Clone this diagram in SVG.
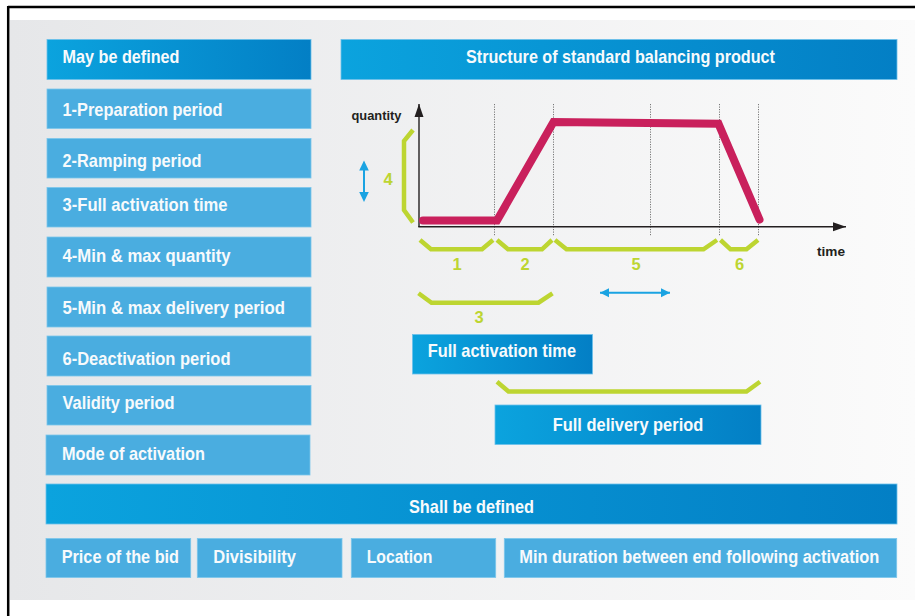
<svg xmlns="http://www.w3.org/2000/svg" width="915" height="616" viewBox="0 0 915 616">
  <defs>
    <linearGradient id="panelFill" x1="0" y1="0" x2="1" y2="0">
      <stop offset="0" stop-color="#e6e7e9"/>
      <stop offset="1" stop-color="#fbfbfb"/>
    </linearGradient>
    <linearGradient id="headFill" x1="0" y1="0" x2="1" y2="0">
      <stop offset="0" stop-color="#0ba3de"/>
      <stop offset="1" stop-color="#037fc5"/>
    </linearGradient>
    <marker id="axisHead" markerUnits="userSpaceOnUse" markerWidth="14" markerHeight="12" viewBox="0 0 14 12" refX="13" refY="6" orient="auto">
      <path d="M0,1.5 L13,6 L0,10.5 Z" fill="#231f20"/>
    </marker>
    <marker id="blueHead" markerUnits="userSpaceOnUse" markerWidth="10" markerHeight="10" viewBox="0 0 10 10" refX="9" refY="5" orient="auto-start-reverse">
      <path d="M0,0.5 L9,5 L0,9.5 Z" fill="#1aa3e2"/>
    </marker>
    <style>
      .box { fill: #4aade0; stroke: #7cc6ec; stroke-width: 0.8; }
      .head { fill: url(#headFill); stroke: #6cc0ea; stroke-width: 0.8; }
      .lbl { font-family: "Liberation Sans", Arial, sans-serif; font-weight: bold; font-size: 18.5px; fill: #f7fafc; }
      .lbl-long { font-size: 17.5px; }
      .axis-lbl { font-family: "Liberation Sans", Arial, sans-serif; font-weight: bold; font-size: 13.5px; fill: #231f20; }
      .num { font-family: "Liberation Sans", Arial, sans-serif; font-weight: bold; font-size: 16.5px; fill: #bdd531; text-anchor: middle; }
      .brace { fill: none; stroke: #bdd531; stroke-width: 4.5; stroke-linejoin: miter; stroke-linecap: butt; }
      .grid { stroke: #777777; stroke-width: 1; stroke-dasharray: 1.2 1.3; }
      .axis { stroke: #231f20; stroke-width: 1.4; fill: none; }
      .span { stroke: #1aa3e2; stroke-width: 2; fill: none; }
    </style>
  </defs>

  <!-- frame and panel -->
  <rect x="0" y="0" width="915" height="616" fill="#ffffff"/>
  <rect x="10" y="20" width="905" height="580" fill="url(#panelFill)"/>
  <line x1="8" y1="7" x2="915" y2="7" stroke="#000" stroke-width="2.5"/>
  <line x1="8.2" y1="6" x2="8.2" y2="616" stroke="#000" stroke-width="2.5"/>

  <!-- optional attributes column -->
  <g id="may-be-defined">
    <rect class="head" x="47" y="39.5" width="264" height="40"/>
    <text class="lbl" x="62.5" y="63.3" textLength="117" lengthAdjust="spacingAndGlyphs">May be defined</text>
  </g>
  <g id="preparation-period">
    <rect class="box" x="47" y="89" width="264" height="39.5"/>
    <text class="lbl" x="62.5" y="116" textLength="160" lengthAdjust="spacingAndGlyphs">1-Preparation period</text>
  </g>
  <g id="ramping-period">
    <rect class="box" x="47" y="138.5" width="264" height="39.5"/>
    <text class="lbl" x="62.5" y="167.3" textLength="139" lengthAdjust="spacingAndGlyphs">2-Ramping period</text>
  </g>
  <g id="full-activation-time-item">
    <rect class="box" x="47" y="187.5" width="264" height="39.5"/>
    <text class="lbl" x="62.5" y="211" textLength="165" lengthAdjust="spacingAndGlyphs">3-Full activation time</text>
  </g>
  <g id="min-max-quantity">
    <rect class="box" x="47" y="237" width="264" height="40"/>
    <text class="lbl" x="62.5" y="262" textLength="168" lengthAdjust="spacingAndGlyphs">4-Min &amp; max quantity</text>
  </g>
  <g id="min-max-delivery-period">
    <rect class="box" x="47" y="287" width="264" height="40"/>
    <text class="lbl" x="62.5" y="314.3" textLength="222.5" lengthAdjust="spacingAndGlyphs">5-Min &amp; max delivery period</text>
  </g>
  <g id="deactivation-period">
    <rect class="box" x="47" y="336" width="264" height="40"/>
    <text class="lbl" x="62.5" y="365" textLength="168" lengthAdjust="spacingAndGlyphs">6-Deactivation period</text>
  </g>
  <g id="validity-period">
    <rect class="box" x="47" y="385.5" width="264" height="39.5"/>
    <text class="lbl" x="62.5" y="409" textLength="112" lengthAdjust="spacingAndGlyphs">Validity period</text>
  </g>
  <g id="mode-of-activation">
    <rect class="box" x="46" y="435" width="264" height="40"/>
    <text class="lbl" x="62" y="460" textLength="143" lengthAdjust="spacingAndGlyphs">Mode of activation</text>
  </g>

  <!-- product structure chart -->
  <g id="structure-header">
    <rect class="head" x="341" y="39.5" width="556" height="40"/>
    <text class="lbl" x="620.5" y="63.3" text-anchor="middle" textLength="309" lengthAdjust="spacingAndGlyphs">Structure of standard balancing product</text>
  </g>

  <g id="chart">
    <!-- time markers -->
    <g id="time-markers">
      <line class="grid" x1="494.5" y1="104" x2="494.5" y2="236"/>
      <line class="grid" x1="553.5" y1="104" x2="553.5" y2="236"/>
      <line class="grid" x1="650.5" y1="104" x2="650.5" y2="236"/>
      <line class="grid" x1="719.5" y1="104" x2="719.5" y2="236"/>
      <line class="grid" x1="758.5" y1="104" x2="758.5" y2="236"/>
    </g>
    <!-- axes -->
    <g id="axes">
      <line class="axis" x1="419" y1="227" x2="419" y2="104" marker-end="url(#axisHead)"/>
      <line class="axis" x1="418.3" y1="226.8" x2="846" y2="226.8" marker-end="url(#axisHead)"/>
      <text class="axis-lbl" x="351.5" y="119.5" textLength="50" lengthAdjust="spacingAndGlyphs">quantity</text>
      <text class="axis-lbl" x="817" y="255.5" textLength="28" lengthAdjust="spacingAndGlyphs">time</text>
    </g>
    <!-- activation profile -->
    <polyline id="profile" points="423,220.5 497,220.5 553.5,122 718.5,123.8 759.5,219.5" fill="none" stroke="#c9205c" stroke-width="8" stroke-linejoin="miter" stroke-linecap="round"/>

    <!-- quantity range -->
    <g id="quantity-range">
      <polyline class="brace" points="413,130 404,141 404,210 413,222.5"/>
      <line class="span" x1="364" y1="170" x2="364" y2="192" stroke-width="2"/>
      <path d="M364,160.5 L368.8,170.5 L359.2,170.5 Z" fill="#1aa3e2"/>
      <path d="M364,202 L368.8,192 L359.2,192 Z" fill="#1aa3e2"/>
      <text class="num" x="388" y="185">4</text>
    </g>

    <!-- period braces -->
    <g id="period-1">
      <polyline class="brace" points="420,240 431,249.3 482,249.3 493,240"/>
      <text class="num" x="457" y="270">1</text>
    </g>
    <g id="period-2">
      <polyline class="brace" points="497,240 508,249.3 542,249.3 552,240"/>
      <text class="num" x="525" y="270">2</text>
    </g>
    <g id="period-5">
      <polyline class="brace" points="555,240 566.5,249.3 703.5,249.3 717,240"/>
      <text class="num" x="636" y="270">5</text>
    </g>
    <g id="period-6">
      <polyline class="brace" points="720.5,240 730.5,249.3 746.5,249.3 758,240"/>
      <text class="num" x="739.5" y="270">6</text>
    </g>
    <g id="period-3">
      <polyline class="brace" points="418.5,293.3 431.5,302.7 538.5,302.7 552.5,293.3"/>
      <text class="num" x="479" y="322.7">3</text>
    </g>

    <!-- delivery period range -->
    <g id="delivery-range">
      <line class="span" x1="600" y1="292.7" x2="670" y2="292.7" marker-start="url(#blueHead)" marker-end="url(#blueHead)"/>
    </g>
  </g>

  <g id="full-activation-time">
    <rect class="head" x="412.5" y="334.5" width="180" height="39.5"/>
    <text class="lbl" x="427.7" y="357.3" textLength="148.3" lengthAdjust="spacingAndGlyphs">Full activation time</text>
  </g>

  <g id="full-delivery-brace">
    <polyline class="brace" points="497,381.7 508.5,391.5 746.5,391.5 760,381.7"/>
  </g>

  <g id="full-delivery-period">
    <rect class="head" x="495" y="405" width="266" height="39.5"/>
    <text class="lbl" x="628" y="430.7" text-anchor="middle" textLength="150.5" lengthAdjust="spacingAndGlyphs">Full delivery period</text>
  </g>

  <!-- mandatory attributes -->
  <g id="shall-be-defined">
    <rect class="head" x="46" y="484" width="851" height="40"/>
    <text class="lbl" x="471.5" y="512.7" text-anchor="middle" textLength="125" lengthAdjust="spacingAndGlyphs">Shall be defined</text>
  </g>
  <g id="price-of-the-bid">
    <rect class="box" x="46" y="538.5" width="144.7" height="39"/>
    <text class="lbl" x="61.7" y="562.7" textLength="117.3" lengthAdjust="spacingAndGlyphs">Price of the bid</text>
  </g>
  <g id="divisibility">
    <rect class="box" x="197.3" y="538.5" width="144.7" height="39"/>
    <text class="lbl" x="213.3" y="562.7" textLength="82.7" lengthAdjust="spacingAndGlyphs">Divisibility</text>
  </g>
  <g id="location">
    <rect class="box" x="351.3" y="538.5" width="144.4" height="39"/>
    <text class="lbl" x="366.7" y="562.7" textLength="65.7" lengthAdjust="spacingAndGlyphs">Location</text>
  </g>
  <g id="min-duration">
    <rect class="box" x="504.3" y="538.5" width="392.4" height="39"/>
    <text class="lbl lbl-long" x="519.3" y="562.7" textLength="360" lengthAdjust="spacingAndGlyphs">Min duration between end following activation</text>
  </g>
</svg>
